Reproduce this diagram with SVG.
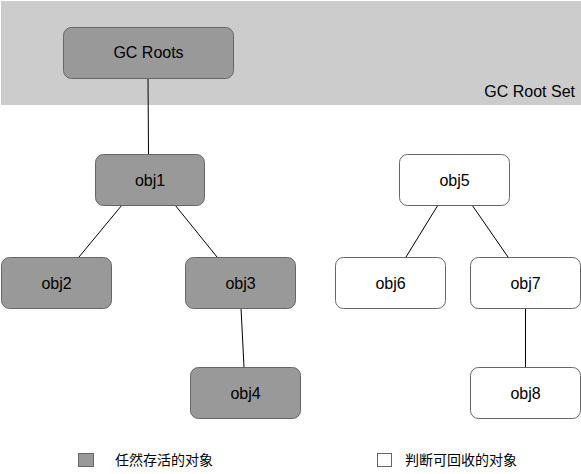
<svg xmlns="http://www.w3.org/2000/svg" width="581" height="474" viewBox="0 0 581 474">
<style>
.live{fill:#999999;stroke:#666666;stroke-width:1}
.dead{fill:#ffffff;stroke:#666666;stroke-width:1}
.lbl{font-family:"Liberation Sans",Arial,sans-serif;font-size:16px;fill:#000;text-anchor:middle;dominant-baseline:central}
.leg{font-family:"Liberation Sans","Noto Sans CJK SC",sans-serif;font-size:14px;fill:#000;dominant-baseline:central}
.edge{stroke:#000;stroke-width:1;fill:none}
</style>
<rect id="root-set" x="1" y="1" width="580" height="104" fill="#cccccc"/>
<text x="575" y="91" class="lbl" style="text-anchor:end">GC Root Set</text>
<g id="connectors">
<line class="edge" x1="148" y1="78" x2="148.5" y2="154"/>
<line class="edge" x1="122" y1="205" x2="79" y2="257"/>
<line class="edge" x1="175" y1="205" x2="217" y2="257"/>
<line class="edge" x1="241" y1="308" x2="244" y2="367"/>
<line class="edge" x1="438" y1="205" x2="406" y2="257"/>
<line class="edge" x1="472" y1="205" x2="508" y2="257"/>
<line class="edge" x1="525.5" y1="308" x2="525.5" y2="368"/>
</g>
<g id="gc-roots"><rect class="live" x="63.5" y="27.5" width="170" height="51" rx="8"/><text class="lbl" x="148.5" y="52.5">GC Roots</text></g>
<g id="obj1"><rect class="live" x="95.5" y="154.5" width="109" height="51" rx="8"/><text class="lbl" x="150" y="180">obj1</text></g>
<g id="obj2"><rect class="live" x="1.5" y="257.5" width="110" height="51" rx="8"/><text class="lbl" x="56.5" y="283">obj2</text></g>
<g id="obj3"><rect class="live" x="185.5" y="257.5" width="110" height="51" rx="8"/><text class="lbl" x="240.5" y="283">obj3</text></g>
<g id="obj4"><rect class="live" x="190.5" y="367.5" width="110" height="51" rx="8"/><text class="lbl" x="245.5" y="393">obj4</text></g>
<g id="obj5"><rect class="dead" x="399.5" y="154.5" width="110" height="51" rx="8"/><text class="lbl" x="454.5" y="180">obj5</text></g>
<g id="obj6"><rect class="dead" x="335.5" y="257.5" width="110" height="51" rx="8"/><text class="lbl" x="390.5" y="283">obj6</text></g>
<g id="obj7"><rect class="dead" x="470.5" y="257.5" width="110" height="51" rx="8"/><text class="lbl" x="525.5" y="283">obj7</text></g>
<g id="obj8"><rect class="dead" x="470.5" y="367.5" width="110" height="51" rx="8"/><text class="lbl" x="525.5" y="393">obj8</text></g>
<g id="legend-live"><rect class="live" x="78.5" y="453.5" width="15" height="13"/><text class="leg" x="115" y="460">任然存活的对象</text></g>
<g id="legend-dead"><rect class="dead" x="377.5" y="453.5" width="14" height="13"/><text class="leg" x="405" y="460">判断可回收的对象</text></g>
</svg>
